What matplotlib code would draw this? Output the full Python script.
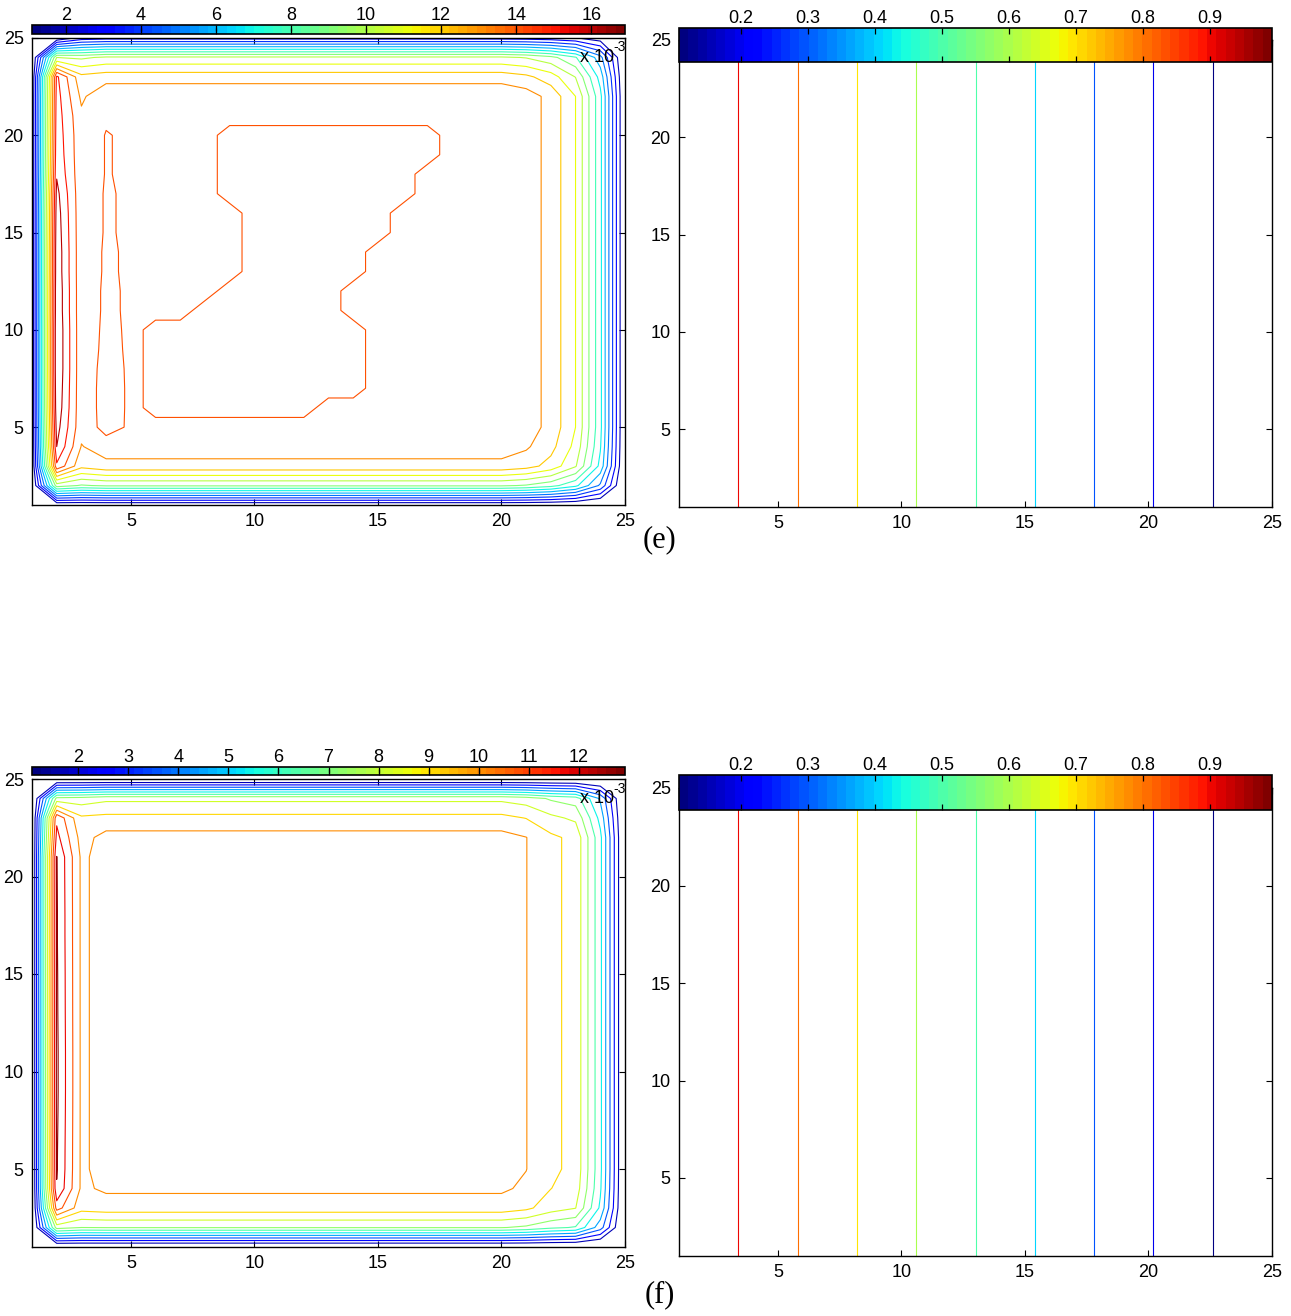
import numpy as np
import matplotlib
matplotlib.use("Agg")
import matplotlib.pyplot as plt
from matplotlib.colors import Normalize
from matplotlib.cm import ScalarMappable

plt.rcParams["font.family"] = ["Liberation Sans", "DejaVu Sans"]
plt.rcParams["font.size"] = 13

# ---------------------------------------------------------------- data
grid_x = np.arange(1, 26)          # node index along x
grid_y = np.arange(1, 26)          # node index along y

# panel (e), left: field in units of 1e-3
plateau_e = 13.85
sx_e = [0.072, 1.0, 1.0] + [1.0] * 17 + [0.975, 0.915, 0.794, 0.527, 0.05]
sy_e = [0.074, 0.66, 0.918, 0.973] + [1.0] * 17 + [1.0, 0.906, 0.736, 0.188]
ridge_e = [1.0, 9.5, 14.8, 16.0, 16.4, 16.7, 16.8, 16.9, 16.9, 16.9,
           16.8, 16.8, 16.7, 16.7, 16.6, 16.5, 16.3, 15.9, 15.7, 15.6,
           15.5, 15.4, 15.2, 10.0, 1.0]
trough_e = [1.0, 8.9, 12.3, 12.95, 13.3] + [13.3] * 15 + [13.2, 12.8, 12.3, 9.8, 2.4]
# raised strip along x = 4, rows y = 5 .. 20
strip_x_e = 4
strip_rows_e = list(range(5, 21))
strip_vals_e = [14.4, 14.45, 14.45, 14.4, 14.3, 14.25, 14.2, 14.2,
                14.15, 14.15, 14.1, 14.1, 14.1, 14.05, 14.05, 14.05]
# raised core: (row y, first x, last x)
hump_value_e = 14.15
hump_rows_e = [
    (20, 9, 17), (19, 9, 17), (18, 9, 16), (17, 9, 16), (16, 10, 15),
    (15, 10, 15), (14, 10, 14), (13, 10, 14), (12, 9, 13), (11, 8, 13),
    (10, 6, 14), (9, 6, 14), (8, 6, 14), (7, 6, 14), (6, 6, 12),
]
levels_e = [2, 3, 4, 5, 6, 7, 8, 9, 10, 11, 12, 13, 14, 15, 16]
crange_e = (1.1, 16.9)
cticks_e = [2, 4, 6, 8, 10, 12, 14, 16]

# panel (f), left: field in units of 1e-3
plateau_f = 10.3
sx_f = [0.029, 1.0, 1.0] + [1.0] * 17 + [0.969, 0.896, 0.854, 0.544, 0.029]
sy_f = [0.029, 0.704, 0.926, 0.981] + [1.0] * 17 + [1.0, 0.903, 0.767, 0.029]
ridge_f = [0.3, 7.6, 11.3, 12.65, 12.8, 12.82, 12.85, 12.88, 12.9, 12.9,
           12.9, 12.88, 12.86, 12.85, 12.84, 12.82, 12.8, 12.8, 12.78, 12.76,
           12.74, 12.1, 11.6, 7.5, 0.3]
trough_f = [0.3, 7.2, 9.4, 9.8, 9.8] + [9.8] * 15 + [9.8, 9.6, 9.2, 7.6, 0.3]
levels_f = [1.68, 2.60, 3.52, 4.44, 5.36, 6.28, 7.20, 8.12, 9.04, 9.96,
            10.88, 11.80, 12.72]
crange_f = (1.08, 12.92)
cticks_f = [2, 3, 4, 5, 6, 7, 8, 9, 10, 11, 12]

# right panels: dimensionless temperature along x (same on every row)
theta_x = [1.0, 0.958, 0.917, 0.875, 0.833, 0.792, 0.75, 0.708, 0.667,
           0.625, 0.583, 0.542, 0.5, 0.458, 0.417, 0.375, 0.333, 0.292,
           0.25, 0.208, 0.167, 0.125, 0.083, 0.042, 0.0]
levels_t = [0.1, 0.2, 0.3, 0.4, 0.5, 0.6, 0.7, 0.8, 0.9]
crange_t = (0.1075, 0.9925)
cticks_t = [0.2, 0.3, 0.4, 0.5, 0.6, 0.7, 0.8, 0.9]

axis_ticks = [5, 10, 15, 20, 25]


def build_field(plateau, sx, sy, ridge, trough):
    z = plateau * np.outer(np.asarray(sy), np.asarray(sx))
    z[:, 1] = ridge
    z[:, 2] = trough
    return z


field_e = build_field(plateau_e, sx_e, sy_e, ridge_e, trough_e)
for y, v in zip(strip_rows_e, strip_vals_e):
    field_e[y - 1, strip_x_e - 1] = v
for y, x0, x1 in hump_rows_e:
    field_e[y - 1, x0 - 1:x1] = hump_value_e
field_f = build_field(plateau_f, sx_f, sy_f, ridge_f, trough_f)
field_t = np.tile(np.asarray(theta_x), (len(grid_y), 1))

# ---------------------------------------------------------------- figure
W, H = 1291, 1316
fig = plt.figure(figsize=(W / 100, H / 100), dpi=100)
jet = plt.get_cmap("jet", 64)


def px_rect(x0, y_top, x1, y_bot):
    return [x0 / W, 1 - y_bot / H, (x1 - x0) / W, (y_bot - y_top) / H]


def style_axes(ax):
    ax.set_xlim(1, 25)
    ax.set_ylim(1, 25)
    ax.set_xticks(axis_ticks)
    ax.set_yticks(axis_ticks)
    ax.tick_params(direction="in", top=True, right=True, length=4.5,
                   width=0.8, labelsize=13, pad=6)
    for s in ax.spines.values():
        s.set_linewidth(1.0)


def draw_colorbar(cax, crange, ticks, fmt=None):
    sm = ScalarMappable(norm=Normalize(*crange), cmap=jet)
    cb = fig.colorbar(sm, cax=cax, orientation="horizontal", ticks=ticks)
    cax.xaxis.set_ticks_position("both")
    cax.tick_params(axis="x", direction="in", labeltop=True, labelbottom=False,
                    top=True, bottom=True, length=4, width=0.9, labelsize=13, pad=1)
    if fmt is not None:
        cax.set_xticklabels([fmt.format(t) for t in ticks])
    cb.outline.set_linewidth(1.2)
    return cb


X, Y = np.meshgrid(grid_x, grid_y)

panels = [
    # (field, levels, crange, ticks, fmt, ax rect, cbar rect)
    (field_e, levels_e, crange_e, cticks_e, None,
     px_rect(32, 38, 625, 505), px_rect(32, 25, 625, 34)),
    (field_t, levels_t, crange_t, cticks_t, "{:.1f}",
     px_rect(679, 40, 1272, 507), px_rect(679, 28, 1272, 62)),
    (field_f, levels_f, crange_f, cticks_f, None,
     px_rect(32, 779, 625, 1247), px_rect(32, 767, 625, 775)),
    (field_t, levels_t, crange_t, cticks_t, "{:.1f}",
     px_rect(679, 788, 1272, 1256), px_rect(679, 775, 1272, 810)),
]

for field, levels, crange, ticks, fmt, rect, crect in panels:
    ax = fig.add_axes(rect)
    ax.contour(X, Y, field, levels=levels, cmap=jet,
               norm=Normalize(*crange), linewidths=0.8)
    style_axes(ax)
    cax = fig.add_axes(crect)
    draw_colorbar(cax, crange, ticks, fmt)

# exponent labels of the left colour scales
for y_main, y_exp in [(58, 47), (799, 789)]:
    fig.text(597 / W, 1 - y_main / H, "x 10", ha="center", va="center", fontsize=13)
    fig.text(620 / W, 1 - y_exp / H, "-3", ha="center", va="center", fontsize=10)

# panel labels
fig.text(660 / W, 1 - 540 / H, "(e)", ha="center", va="center",
         fontsize=22, family=["Liberation Serif", "DejaVu Serif"])
fig.text(660 / W, 1 - 1295 / H, "(f)", ha="center", va="center",
         fontsize=22, family=["Liberation Serif", "DejaVu Serif"])

fig.savefig("out.png", dpi=100)
